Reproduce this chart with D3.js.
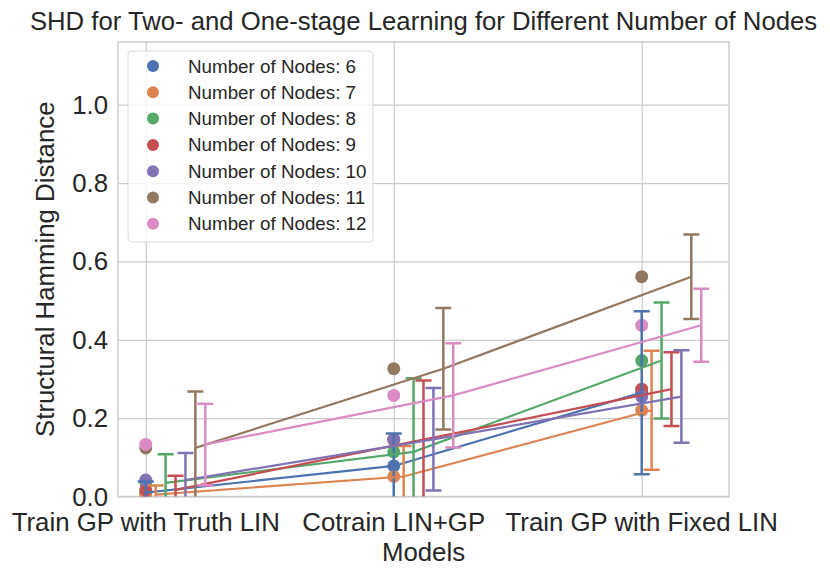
<!DOCTYPE html>
<html>
<head>
<meta charset="utf-8">
<script src="https://cdn.jsdelivr.net/npm/d3@7"></script>
<style>
  body { margin: 0; background: #fff; }
  text { font-family: "Liberation Sans", Arial, Helvetica, sans-serif; fill: #262626; }
</style>
</head>
<body>
<div id="chart"></div>
<script>
var models = ["Train GP with Truth LIN", "Cotrain LIN+GP", "Train GP with Fixed LIN"];
var nodes = [6, 7, 8, 9, 10, 11, 12];
var yTicks = [0.0, 0.2, 0.4, 0.6, 0.8, 1.0];

// mean SHD per model, one array per node count
var shd6  = [0.010, 0.078, 0.265];
var shd7  = [0.005, 0.051, 0.220];
var shd8  = [0.035, 0.114, 0.347];
var shd9  = [0.017, 0.145, 0.274];
var shd10 = [0.042, 0.146, 0.255];
var shd11 = [0.124, 0.326, 0.561];
var shd12 = [0.133, 0.258, 0.437];

// error bar half-lengths
var err6  = [0.028, 0.083, 0.208];
var err7  = [0.023, 0.078, 0.152];
var err8  = [0.073, 0.188, 0.148];
var err9  = [0.036, 0.151, 0.094];
var err10 = [0.069, 0.131, 0.118];
var err11 = [0.144, 0.155, 0.108];
var err12 = [0.104, 0.133, 0.093];

var means = [shd6, shd7, shd8, shd9, shd10, shd11, shd12];
var errs = [err6, err7, err8, err9, err10, err11, err12];
var colors = ["#4c72b0", "#dd8452", "#55a868", "#c44e52", "#8172b3", "#937860", "#da8bc3"];

var width = 830;
var height = 579;
var plotL = 118, plotR = 729, plotT = 42, plotB = 496.5;
var dodge = 0.04;

var svg = d3.select("#chart")
    .append("svg")
    .attr("width", width)
    .attr("height", height);

var x = d3.scaleLinear().domain([-0.112, 2.352]).range([plotL, plotR]);
var y = d3.scaleLinear().domain([0, 1.16]).range([plotB, plotT]);

svg.append("clipPath").attr("id", "clip")
    .append("rect")
    .attr("x", plotL).attr("y", plotT)
    .attr("width", plotR - plotL).attr("height", plotB - plotT);

// grid
svg.append("g")
    .attr("transform", "translate(0," + plotB + ")")
    .call(d3.axisBottom(x).tickValues([0, 1, 2]).tickSize(-(plotB - plotT)).tickFormat(""))
    .call(function(g) {
        g.select(".domain").remove();
        g.selectAll("line").attr("stroke", "#cccccc").attr("stroke-width", 1.2);
    });

svg.append("g")
    .attr("transform", "translate(" + plotL + ",0)")
    .call(d3.axisLeft(y).tickValues(yTicks).tickSize(-(plotR - plotL)).tickFormat(""))
    .call(function(g) {
        g.select(".domain").remove();
        g.selectAll("line").attr("stroke", "#cccccc").attr("stroke-width", 1.2);
    });

// tick labels
svg.selectAll(".ylab")
    .data(yTicks)
    .enter()
    .append("text")
    .attr("class", "ylab")
    .attr("x", plotL - 10)
    .attr("y", function(d) { return y(d) + 9; })
    .attr("text-anchor", "end")
    .attr("font-size", "25.8px")
    .text(function(d) { return d.toFixed(1); });

svg.selectAll(".xlab")
    .data(models)
    .enter()
    .append("text")
    .attr("class", "xlab")
    .attr("x", function(d, i) { return x(i); })
    .attr("y", 531)
    .attr("text-anchor", "middle")
    .attr("font-size", "25.8px")
    .text(function(d) { return d; });

// axis frame
svg.append("rect")
    .attr("x", plotL).attr("y", plotT)
    .attr("width", plotR - plotL).attr("height", plotB - plotT)
    .attr("fill", "none")
    .attr("stroke", "#cccccc")
    .attr("stroke-width", 1.5);

var plot = svg.append("g").attr("clip-path", "url(#clip)");

// points at category centres (below the lines)
means.forEach(function(m, s) {
    plot.selectAll(".pt" + s)
        .data(m)
        .enter()
        .append("circle")
        .attr("cx", function(d, i) { return x(i); })
        .attr("cy", function(d) { return y(d); })
        .attr("r", 6.5)
        .attr("fill", colors[s]);
});

// error bars and connecting lines, dodged
var line = d3.line()
    .x(function(d) { return x(d[0]); })
    .y(function(d) { return y(d[1]); });

means.forEach(function(m, s) {
    var off = s * dodge;
    var e = errs[s];
    var g = plot.append("g").attr("stroke", colors[s]).attr("fill", "none");

    m.forEach(function(v, i) {
        var cx = x(i + off);
        g.append("line")
            .attr("x1", cx).attr("x2", cx)
            .attr("y1", y(v - e[i])).attr("y2", y(v + e[i]))
            .attr("stroke-width", 2.5);
        [v - e[i], v + e[i]].forEach(function(c) {
            g.append("line")
                .attr("x1", cx - 8).attr("x2", cx + 8)
                .attr("y1", y(c)).attr("y2", y(c))
                .attr("stroke-width", 2.5);
        });
    });

    g.append("path")
        .datum(m.map(function(v, i) { return [i + off, v]; }))
        .attr("d", line)
        .attr("stroke-width", 2.2);
});

// legend
var leg = svg.append("g");
leg.append("rect")
    .attr("x", 128).attr("y", 51)
    .attr("width", 245).attr("height", 191)
    .attr("rx", 4)
    .attr("fill", "#ffffff")
    .attr("fill-opacity", 0.8)
    .attr("stroke", "#d9d9d9")
    .attr("stroke-width", 1);

nodes.forEach(function(n, i) {
    var ry = 66 + i * 26.3;
    leg.append("circle")
        .attr("cx", 153).attr("cy", ry)
        .attr("r", 6)
        .attr("fill", colors[i]);
    leg.append("text")
        .attr("x", 188).attr("y", ry + 6.5)
        .attr("font-size", "18.8px")
        .text("Number of Nodes: " + n);
});

// titles
svg.append("text")
    .attr("x", (plotL + plotR) / 2)
    .attr("y", 30)
    .attr("text-anchor", "middle")
    .attr("font-size", "25.7px")
    .text("SHD for Two- and One-stage Learning for Different Number of Nodes");

svg.append("text")
    .attr("x", (plotL + plotR) / 2)
    .attr("y", 561)
    .attr("text-anchor", "middle")
    .attr("font-size", "25.8px")
    .text("Models");

svg.append("text")
    .attr("transform", "translate(54," + ((plotT + plotB) / 2) + ") rotate(-90)")
    .attr("text-anchor", "middle")
    .attr("font-size", "25.8px")
    .text("Structural Hamming Distance");
</script>
</body>
</html>
